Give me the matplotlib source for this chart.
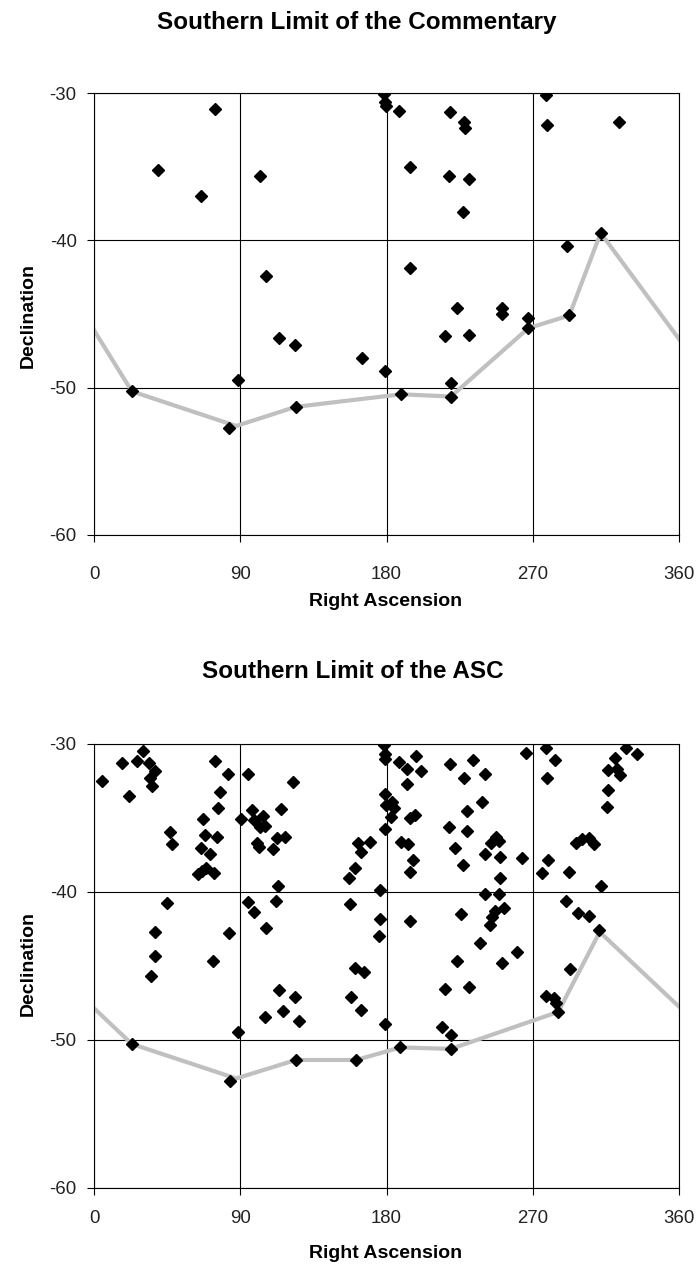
import matplotlib
matplotlib.use('Agg')
import matplotlib.pyplot as plt

plt.rcParams['font.family'] = ['Liberation Sans', 'DejaVu Sans']
plt.rcParams['axes.unicode_minus'] = False

# Commentary - stars (right ascension, declination)
ra_comm = [39.2, 65.7, 74.6, 101.9, 105.6, 23.3, 88.9, 83.2, 113.6, 123.5, 124.2, 164.7,
           178.9, 178.6, 178.8, 179.5, 187.8, 189.0, 194.3, 194.3, 215.9, 218.2, 219.0,
           219.7, 219.7, 223.5, 227.3, 227.5, 228.3, 230.6, 231.0, 251.0, 251.0, 266.9,
           267.3, 278.2, 279.0, 290.8, 292.5, 311.8, 323.1]
dec_comm = [-35.2, -37.0, -31.1, -35.6, -42.4, -50.25, -49.5, -52.76, -46.6, -47.1, -51.3, -48.0,
            -48.9, -30.05, -30.6, -30.9, -31.2, -50.45, -35.03, -41.85, -46.5, -35.6, -31.3,
            -49.66, -50.6, -44.6, -38.1, -32.0, -32.4, -35.85, -46.4, -44.6, -45.0, -45.3,
            -45.96, -30.16, -32.2, -40.4, -45.1, -39.5, -31.96]

# Commentary - southern limit line
lim_comm_ra = [0, 23.3, 87.5, 124.2, 189.0, 219.7, 267.3, 292.5, 311.8, 360]
lim_comm_dec = [-46.1, -50.25, -52.6, -51.3, -50.45, -50.6, -45.96, -45.1, -39.5, -46.7]

# ASC - stars
ra_asc = [4.7, 17.3, 21.4, 26.3, 30.4, 33.9, 37.4, 34.5, 35.5,
          74.6, 82.4, 77.7, 76.0, 67.2, 94.5, 122.3,
          46.8, 48.3, 68.6, 75.6, 65.7, 71.1, 63.9, 68.8, 73.8, 66.5,
          90.4, 97.2, 98.2, 104.0, 102.3, 105.0, 115.3, 100.3, 101.7, 110.1, 112.6, 117.3,
          162.3, 170.0, 164.0, 160.5, 157.0,
          113.2, 112.3, 45.2, 94.9, 98.5, 157.3, 37.8, 83.0, 105.6,
          178.6, 179.0, 179.3, 187.6, 198.0, 192.9, 201.0, 192.9, 219.0, 233.3, 227.8, 240.8,
          265.9, 278.2, 283.5, 279.0, 327.6, 334.1, 320.4, 316.1, 322.0, 323.5, 316.1, 315.5,
          179.2, 179.8, 183.3, 184.8, 183.0, 179.2, 194.5, 197.6, 229.4, 238.6, 218.2, 229.8,
          189.0, 193.5, 196.5, 194.3, 222.2, 227.1, 240.4, 249.6, 244.5, 247.6, 249.2, 263.3,
          249.6, 279.6, 275.7, 292.2, 296.7, 300.6, 304.7, 307.8, 311.8,
          176.0, 175.7, 194.3, 225.7, 240.6, 249.0, 252.5, 246.5, 245.0, 243.4, 290.7, 297.8,
          304.5, 311.0,
          37.5, 35.1, 73.1, 175.6, 237.6, 260.3, 251.1, 223.5, 216.0, 231.0, 292.8,
          278.2, 282.9, 284.6, 285.7,
          113.6, 123.5, 116.0, 105.4, 126.1, 160.8, 166.0, 158.0, 164.6, 178.9, 88.9,
          214.3, 219.7, 23.3, 83.5, 124.2, 161.3, 188.6, 219.7]
dec_asc = [-32.47, -31.26, -33.48, -31.15, -30.49, -31.28, -31.84, -32.27, -32.85,
           -31.17, -32.04, -33.26, -34.31, -35.06, -32.04, -32.58,
           -35.96, -36.76, -36.18, -36.29, -37.0, -37.46, -38.81, -38.4, -38.74, -38.6,
           -35.08, -34.47, -35.15, -34.88, -35.6, -35.55, -34.4, -36.67, -36.94, -37.1, -36.34, -36.27,
           -36.72, -36.62, -37.28, -38.36, -39.08,
           -39.57, -40.6, -40.75, -40.65, -41.35, -40.8, -42.7, -42.8, -42.45,
           -30.1, -30.7, -31.0, -31.24, -30.81, -31.71, -31.82, -32.7, -31.35, -31.06, -32.29, -32.04,
           -30.61, -30.27, -31.1, -32.27, -30.27, -30.65, -30.92, -31.73, -31.66, -32.11, -33.08, -34.25,
           -33.35, -34.1, -33.9, -34.3, -34.9, -35.75, -35.03, -34.81, -34.54, -33.89, -35.64, -35.87,
           -36.6, -36.76, -37.84, -38.63, -37.06, -38.18, -37.46, -37.62, -36.72, -36.27, -36.54, -37.73,
           -39.08, -37.84, -38.74, -38.63, -36.72, -36.45, -36.38, -36.76, -39.57,
           -39.85, -41.8, -41.95, -41.5, -40.13, -40.13, -41.05, -41.3, -41.7, -42.25, -40.6, -41.4,
           -41.65, -42.6,
           -44.3, -45.65, -44.66, -42.97, -43.42, -44.03, -44.77, -44.66, -46.55, -46.42, -45.2,
           -47.03, -47.18, -47.5, -48.09,
           -46.6, -47.07, -48.04, -48.47, -48.69, -45.16, -45.43, -47.07, -47.97, -48.92, -49.48,
           -49.14, -49.66, -50.27, -52.77, -51.35, -51.35, -50.5, -50.6]

# ASC - southern limit line
lim_asc_ra = [0, 23.3, 87.5, 124.2, 161.3, 188.6, 219.7, 285.7, 311.2, 360]
lim_asc_dec = [-47.85, -50.27, -52.6, -51.35, -51.35, -50.5, -50.6, -48.1, -42.7, -47.75]

W, H = 700, 1264
fig = plt.figure(figsize=(W / 100, H / 100), dpi=100)


def panel(top_px, bottom_px, ra, dec, lim_ra, lim_dec, xpad):
    ax = fig.add_axes([94 / W, 1 - bottom_px / H, 585 / W, (bottom_px - top_px) / H])
    ax.plot(lim_ra, lim_dec, color='#c0c0c0', linewidth=3, solid_joinstyle='miter', zorder=2)
    ax.plot(ra, dec, linestyle='none', marker='D', markersize=6, color='black', zorder=3)
    ax.set_xlim(0, 360)
    ax.set_ylim(-60, -30)
    ax.set_xticks([0, 90, 180, 270, 360])
    ax.set_yticks([-60, -50, -40, -30])
    ax.grid(True, color='black', linewidth=0.8)
    ax.set_axisbelow(True)
    for s in ax.spines.values():
        s.set_color('black')
        s.set_linewidth(0.8)
    ax.tick_params(axis='both', direction='out', length=5, width=0.8, labelsize=13.4,
                   colors='black', labelcolor='#222222')
    ax.tick_params(axis='x', pad=xpad)
    ax.tick_params(axis='y', pad=7.5)
    return ax


panel(93, 535, ra_comm, dec_comm, lim_comm_ra, lim_comm_dec, 17)
panel(744, 1188, ra_asc, dec_asc, lim_asc_ra, lim_asc_dec, 10.5)

fig.text(357 / W, 1 - 22 / H, 'Southern Limit of the Commentary', ha='center', va='center',
         fontsize=17.5, fontweight='bold')
fig.text(353 / W, 1 - 672 / H, 'Southern Limit of the ASC', ha='center', va='center',
         fontsize=17.5, fontweight='bold')
fig.text(386 / W, 1 - 602 / H, 'Right Ascension', ha='center', va='center', fontsize=14, fontweight='bold')
fig.text(386 / W, 1 - 1254 / H, 'Right Ascension', ha='center', va='center', fontsize=14, fontweight='bold')
fig.text(28 / W, 1 - 315 / H, 'Declination', ha='center', va='center', rotation=90,
         fontsize=14, fontweight='bold')
fig.text(28 / W, 1 - 964 / H, 'Declination', ha='center', va='center', rotation=90,
         fontsize=14, fontweight='bold')

fig.savefig('out.png', dpi=100, facecolor='white')
